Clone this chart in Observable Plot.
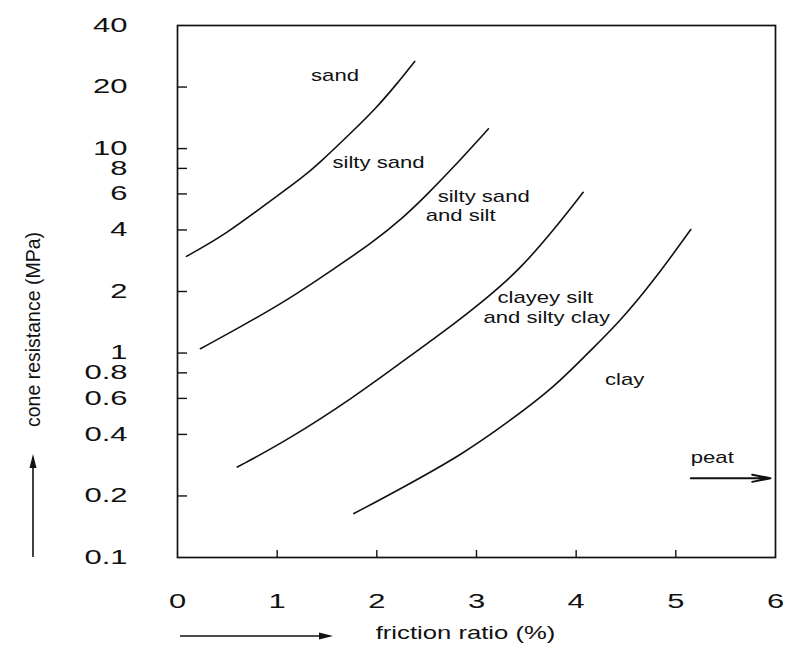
<!DOCTYPE html>
<html>
<head>
<meta charset="utf-8">
<script src="https://cdn.jsdelivr.net/npm/d3@7"></script>
<script src="https://cdn.jsdelivr.net/npm/@observablehq/plot@0.6"></script>
<style>
  html, body { margin: 0; padding: 0; background: #fff; }
  svg { display: block; }
</style>
</head>
<body>
<div id="chart"></div>
<script>
// ---- Axis ticks ----
const xTickLabels = [0, 1, 2, 3, 4, 5, 6];
const xTickMarks = [1, 2, 3, 4, 5];
const yTickLabels = [0.1, 0.2, 0.4, 0.6, 0.8, 1, 2, 4, 6, 8, 10, 20, 40];
const yTickMarks = [0.2, 0.4, 0.6, 0.8, 1, 2, 4, 6, 8, 10, 20];

// ---- Boundary curves (friction ratio %, cone resistance MPa) ----
const sandBoundaryX = [0.09, 0.49, 0.89, 1.26, 1.43, 1.73, 2.00, 2.20, 2.38];
const sandBoundaryY = [2.97, 3.83, 5.37, 7.24, 8.57, 11.8, 15.9, 20.7, 26.7];

const siltySandBoundaryX = [0.23, 0.63, 1.13, 1.54, 1.94, 2.27, 2.51, 2.77, 3.12];
const siltySandBoundaryY = [1.05, 1.34, 1.85, 2.53, 3.42, 4.61, 6.00, 8.10, 12.5];

const siltBoundaryX = [0.60, 1.10, 1.77, 2.27, 2.77, 3.14, 3.44, 3.77, 4.07];
const siltBoundaryY = [0.277, 0.374, 0.608, 0.919, 1.38, 1.92, 2.59, 3.97, 6.11];

const clayBoundaryX = [1.77, 2.27, 2.87, 3.34, 3.78, 4.11, 4.43, 4.78, 5.15];
const clayBoundaryY = [0.164, 0.221, 0.322, 0.468, 0.681, 0.991, 1.41, 2.26, 4.02];

// ---- Region labels ----
const labelText = ["sand", "silty sand", "silty sand", "and silt", "clayey silt", "and silty clay", "clay", "peat"];
const labelX = [1.34, 1.555, 2.61, 2.49, 3.21, 3.07, 4.29, 5.15];
const labelY = [22.7, 8.57, 5.83, 4.70, 1.875, 1.496, 0.742, 0.308];

// peat arrow
const peatArrowX1 = [5.15];
const peatArrowX2 = [5.95];
const peatArrowY = [0.244];

// ---- Build tables ----
const boundaries = [
  ["sand", sandBoundaryX, sandBoundaryY],
  ["silty sand", siltySandBoundaryX, siltySandBoundaryY],
  ["silt", siltBoundaryX, siltBoundaryY],
  ["clay", clayBoundaryX, clayBoundaryY]
];
const curveRows = boundaries.flatMap(([name, xs, ys]) => xs.map((x, i) => ({boundary: name, x, y: ys[i]})));
const labelRows = labelText.map((t, i) => ({text: t, x: labelX[i], y: labelY[i]}));
const arrowRows = peatArrowX1.map((x1, i) => ({x1, x2: peatArrowX2[i], y: peatArrowY[i]}));

const W = 786, H = 657;
const plot = Plot.plot({
  width: W,
  height: H,
  marginLeft: 177,
  marginRight: 11,
  marginTop: 25,
  marginBottom: 100,
  style: {fontFamily: "'Liberation Sans', Arial, sans-serif", background: "#fff", color: "#111"},
  x: {domain: [0, 6], label: null},
  y: {type: "log", domain: [0.1, 40], label: null},
  marks: [
    Plot.frame({stroke: "#111", strokeWidth: 1.7}),
    Plot.axisX(xTickMarks, {tickSize: -7, fill: "none", strokeWidth: 1.4, label: null}),
    Plot.axisX(xTickLabels, {tickSize: 0, tickPadding: 36, fontSize: 20, tickFormat: d => String(d), label: null}),
    Plot.axisY(yTickMarks, {tickSize: -10, fill: "none", strokeWidth: 1.4, label: null}),
    Plot.text(yTickLabels, {y: d => d, text: d => String(d), frameAnchor: "left", dx: -50, textAnchor: "end", lineAnchor: "middle", fontSize: 20}),
    Plot.line(curveRows, {x: "x", y: "y", z: "boundary", curve: "basis", stroke: "#111", strokeWidth: 1.6}),
    Plot.text(labelRows, {x: "x", y: "y", text: "text", textAnchor: "start", fontSize: 17}),
    Plot.arrow(arrowRows, {x1: "x1", x2: "x2", y1: "y", y2: "y", stroke: "#111", strokeWidth: 2, headLength: 14, headAngle: 22}),
    Plot.text(["friction ratio (%)"], {frameAnchor: "bottom", dx: -11, dy: 75, textAnchor: "middle", lineAnchor: "middle", fontSize: 19}),
    Plot.text(["cone resistance (MPa)"], {frameAnchor: "left", rotate: -90, dx: -144, dy: 38, textAnchor: "middle", lineAnchor: "middle", fontSize: 19.5})
  ]
});

document.getElementById("chart").append(plot);

// widen the lettering to match the extended typeface of the original
function stretch(selection, k) {
  selection.each(function () {
    const L = this.getComputedTextLength();
    if (L > 0) {
      this.setAttribute("textLength", (L * k).toFixed(1));
      this.setAttribute("lengthAdjust", "spacingAndGlyphs");
    }
  });
}
const svg = d3.select(plot);
stretch(svg.selectAll('g[aria-label="x-axis tick label"] text, g[aria-label="text"][font-size="20"] text'), 1.55);
stretch(svg.selectAll('g[aria-label="text"][font-size="17"] text'), 1.3);
stretch(svg.selectAll('g[aria-label="text"][font-size="19"] text'), 1.35);

// axis direction arrows (decoration outside the frame)
function drawArrow(x1, y1, x2, y2) {
  const g = svg.append("g").attr("fill", "#111").attr("stroke", "#111");
  const a = Math.atan2(y2 - y1, x2 - x1);
  const hl = 14, hw = 3.5;
  const bx = x2 - hl * Math.cos(a), by = y2 - hl * Math.sin(a);
  g.append("line").attr("x1", x1).attr("y1", y1).attr("x2", bx).attr("y2", by).attr("stroke-width", 1.6);
  g.append("path").attr("stroke", "none").attr("d",
    `M${x2},${y2}L${bx - hw * Math.sin(a)},${by + hw * Math.cos(a)}L${bx + hw * Math.sin(a)},${by - hw * Math.cos(a)}Z`);
}
drawArrow(180, 636, 333, 636);
drawArrow(33, 557, 33, 454);
</script>
</body>
</html>
